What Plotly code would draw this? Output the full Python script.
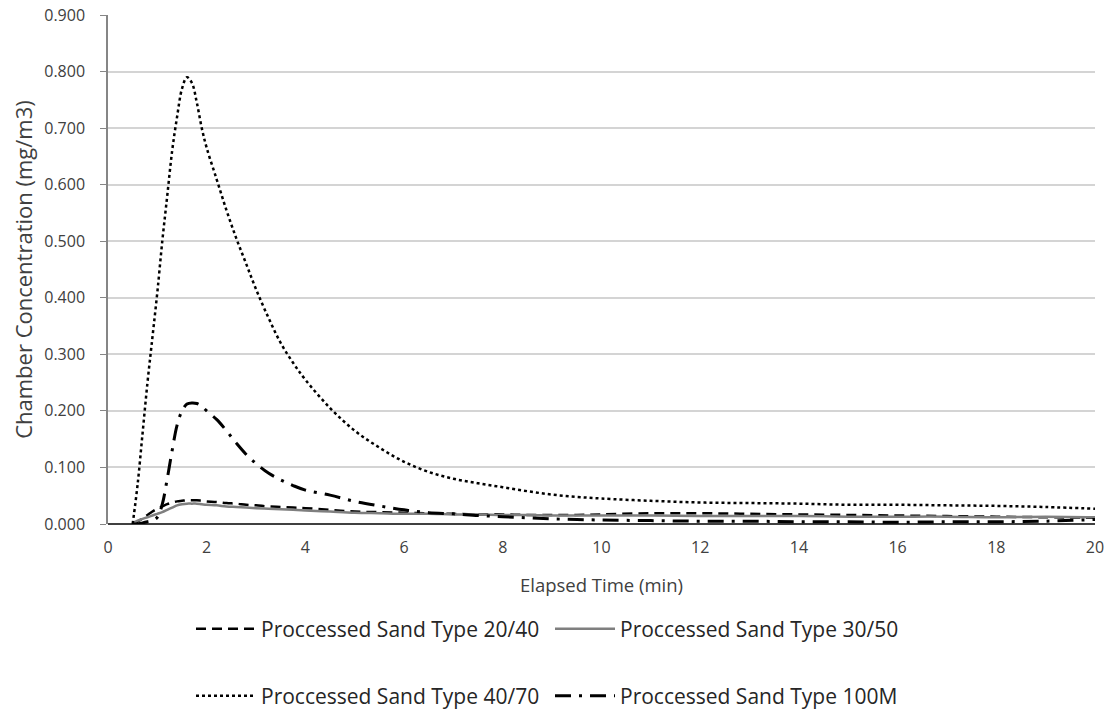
import plotly.graph_objects as go

time_min = [0.5, 0.6, 0.7, 0.8, 0.9, 1.0, 1.1, 1.2, 1.3, 1.4, 1.5, 1.6, 1.7, 1.8, 1.9,
            2.0, 2.2, 2.4, 2.6, 2.8, 3.0, 3.25, 3.5, 3.75, 4.0, 4.5, 5.0, 5.5, 6.0, 6.5,
            7.0, 7.5, 8.0, 8.5, 9.0, 9.5, 10, 11, 12, 13, 14, 15, 16, 17, 18, 19, 20]

sand_20_40 = [0.0, 0.004, 0.010, 0.016, 0.022, 0.027, 0.031, 0.035, 0.038, 0.040, 0.041, 0.042,
              0.042, 0.042, 0.041, 0.040, 0.039, 0.037, 0.036, 0.034, 0.033, 0.031, 0.030,
              0.029, 0.028, 0.025, 0.022, 0.021, 0.020, 0.019, 0.018, 0.017, 0.017, 0.016,
              0.016, 0.016, 0.017, 0.019, 0.019, 0.018, 0.017, 0.016, 0.015, 0.014, 0.013,
              0.012, 0.011]

sand_30_50 = [0.002, 0.006, 0.009, 0.012, 0.015, 0.018, 0.021, 0.025, 0.029, 0.033, 0.035,
              0.036, 0.036, 0.036, 0.035, 0.034, 0.033, 0.031, 0.030, 0.029, 0.028, 0.027,
              0.026, 0.025, 0.024, 0.022, 0.020, 0.019, 0.018, 0.018, 0.017, 0.017, 0.016,
              0.016, 0.015, 0.015, 0.015, 0.015, 0.014, 0.014, 0.014, 0.013, 0.013, 0.013,
              0.012, 0.013, 0.012]

sand_40_70 = [0.0, 0.07, 0.16, 0.25, 0.33, 0.41, 0.50, 0.58, 0.66, 0.72, 0.77, 0.79, 0.78,
              0.745, 0.70, 0.665, 0.61, 0.555, 0.505, 0.46, 0.415, 0.365, 0.32, 0.285, 0.255,
              0.205, 0.165, 0.135, 0.11, 0.092, 0.08, 0.072, 0.065, 0.058, 0.052, 0.048, 0.045,
              0.041, 0.038, 0.037, 0.036, 0.034, 0.034, 0.033, 0.032, 0.030, 0.027]

sand_100m = [0.0, 0.0, 0.002, 0.004, 0.006, 0.012, 0.035, 0.08, 0.13, 0.175, 0.2, 0.212,
             0.214, 0.213, 0.208, 0.2, 0.185, 0.165, 0.143, 0.123, 0.107, 0.09, 0.078,
             0.068, 0.06, 0.051, 0.04, 0.032, 0.025, 0.02, 0.018, 0.015, 0.013, 0.011,
             0.009, 0.008, 0.007, 0.006, 0.005, 0.005, 0.004, 0.004, 0.003, 0.004, 0.004,
             0.005, 0.008]

x_ticks = list(range(0, 21, 2))
y_ticks = [i / 10 for i in range(0, 10)]

FONT = "Open Sans"
TXT = "#404040"

fig = go.Figure()
fig.add_trace(go.Scatter(x=time_min, y=sand_20_40, mode="lines", name="Proccessed Sand Type 20/40",
                         line=dict(color="black", width=2.5, dash="10px,6px", shape="spline"),
                         legend="legend"))
fig.add_trace(go.Scatter(x=time_min, y=sand_30_50, mode="lines", name="Proccessed Sand Type 30/50",
                         line=dict(color="#7f7f7f", width=2.5, shape="spline"),
                         legend="legend"))
fig.add_trace(go.Scatter(x=time_min, y=sand_40_70, mode="lines", name="Proccessed Sand Type 40/70",
                         line=dict(color="black", width=2.5, dash="dot", shape="spline"),
                         legend="legend2"))
fig.add_trace(go.Scatter(x=time_min, y=sand_100m, mode="lines", name="Proccessed Sand Type 100M",
                         line=dict(color="black", width=3, dash="16px,8px,3px,8px", shape="spline"),
                         legend="legend2"))

legend_common = dict(orientation="h", xref="container", yref="container", xanchor="left",
                     yanchor="middle", font=dict(family=FONT, size=21, color="#262626"),
                     entrywidth=284, bgcolor="rgba(0,0,0,0)", itemwidth=60)

fig.update_layout(
    width=1118, height=709,
    margin=dict(l=108, r=23, t=15, b=185, autoexpand=False),
    plot_bgcolor="white", paper_bgcolor="white",
    font=dict(family=FONT, color=TXT),
    legend=dict(x=191 / 1118, y=1 - 629 / 709, **legend_common),
    legend2=dict(x=191 / 1118, y=1 - 696 / 709, **legend_common),
    xaxis=dict(range=[0, 20], tickvals=x_ticks, showgrid=False, zeroline=False,
               showline=False, ticks="", ticklabelstandoff=12,
               tickfont=dict(size=16, color=TXT),
               title=dict(text="Elapsed Time (min)", font=dict(size=18.5, color=TXT), standoff=22)),
    yaxis=dict(range=[0, 0.9], tickvals=y_ticks, tickformat=".3f", showgrid=True,
               gridcolor="#d4d4d4", gridwidth=1.5, zeroline=True, zerolinecolor="#404040",
               zerolinewidth=1.5, showline=True, linecolor="#868686", linewidth=1.5,
               ticks="outside", ticklen=6, tickcolor="#868686", ticklabelstandoff=12,
               tickfont=dict(size=16, color=TXT),
               title=dict(text="Chamber Concentration (mg/m3)", font=dict(size=22, color=TXT),
                          standoff=6)),
)

fig.write_html("out.html")
